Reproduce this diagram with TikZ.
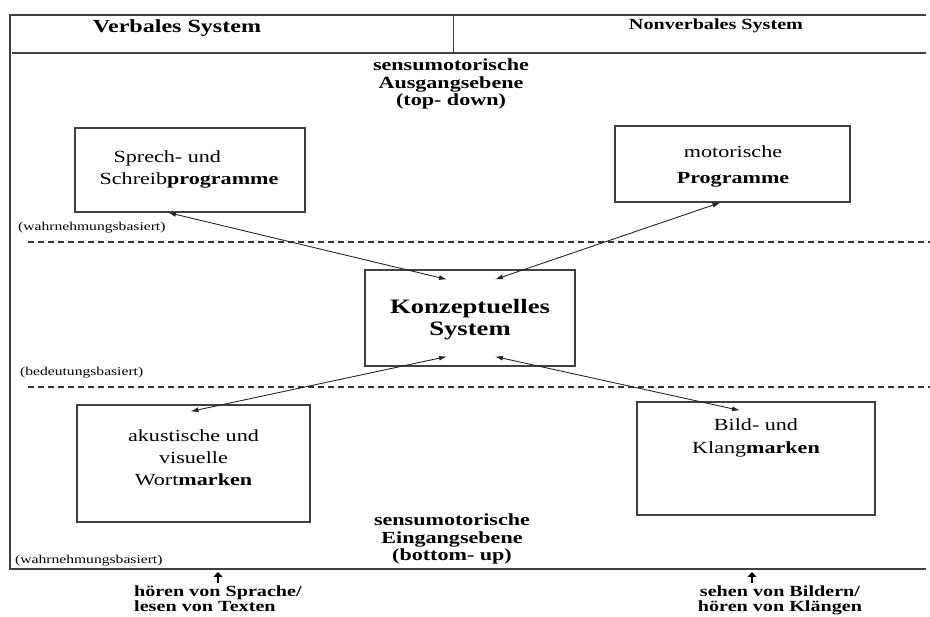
\documentclass[tikz,border=0pt]{standalone}
\usepackage{fontspec}
\setmainfont{Liberation Serif}[FakeStretch=1.3]
\usetikzlibrary{calc,arrows.meta}
\begin{document}
\begin{tikzpicture}[x=1pt,y=-1pt,
  frame/.style={draw=black!75,line width=1.3pt},
  sep/.style={draw=black!80,line width=1.4pt,dash pattern=on 6pt off 4pt},
  stage/.style={draw=black!75,line width=1.1pt,rectangle,inner sep=0pt},
  txt/.style={inner sep=0pt,align=center,font=\fontsize{17}{22}\selectfont},
  head/.style={inner sep=0pt,font=\fontsize{17}{17.5}\selectfont\bfseries,align=center},
  note/.style={inner sep=0pt,anchor=west,font=\fontsize{12}{13}\selectfont},
  link/.style={draw=black!85,line width=0.9pt,{Latex[length=8pt,width=5pt]}-{Latex[length=8pt,width=5pt]}},
  input/.style={draw=black,line width=2.2pt,-{Triangle[length=5pt,width=9pt]}},
  source/.style={inner sep=0pt,align=left,font=\fontsize{15.5}{15}\selectfont\bfseries}]
\useasboundingbox (0,0) rectangle (930,617);

% outer frame and header row
\coordinate (tl) at (10,15);
\coordinate (tr) at (926,15);
\coordinate (hl) at (12,53);
\coordinate (hr) at (926,53);
\coordinate (bl) at (10,569);
\coordinate (br) at (926,569);
\coordinate (dtop) at (453,15);
\coordinate (dbot) at (453,53);
\draw[frame] (tr) -- (tl) -- (bl) -- (br);
\draw[frame] (hl) -- (hr);
\draw[frame,line width=1pt] (dtop) -- (dbot);
\node[inner sep=0pt,font=\fontsize{18.5}{20}\selectfont\bfseries] (verb) at (177,28) {Verbales System};
\node[inner sep=0pt,font=\fontsize{15.5}{18}\selectfont\bfseries] (nonverb) at (716,26) {Nonverbales System};

% level separators
\coordinate (s1l) at (28,242);
\coordinate (s1r) at (930,242);
\coordinate (s2l) at (28,387);
\coordinate (s2r) at (930,387);
\draw[sep] (s1l) -- (s1r);
\draw[sep] (s2l) -- (s2r);

% level captions
\node[head] (out) at (451,84) {sensumotorische\\Ausgangsebene\\(top- down)};
\node[head] (in) at (452,539) {sensumotorische\\Eingangsebene\\(bottom- up)};
\node[note] (n1) at (18,228) {(wahrnehmungsbasiert)};
\node[note] (n2) at (20,373) {(bedeutungsbasiert)};
\node[note] (n3) at (15,561) {(wahrnehmungsbasiert)};

% boxes
\node[stage,minimum width=230pt,minimum height=84pt] (sp) at (190,170) {};
\node[txt,align=left] (sptext) at (189,169) {\hspace*{14pt}Sprech- und\\Schreib\textbf{programme}};
\node[stage,minimum width=235pt,minimum height=76pt] (mo) at (732.5,164) {};
\node[txt,font=\fontsize{17}{26}\selectfont] (motext) at (733,166) {motorische\\\textbf{Programme}};
\node[stage,minimum width=210pt,minimum height=96pt] (konz) at (470,318) {};
\node[txt,font=\fontsize{20.5}{22}\selectfont\bfseries] (konztext) at (470,320) {Konzeptuelles\\System};
\node[stage,minimum width=233pt,minimum height=117pt] (ak) at (193.5,463.5) {};
\node[txt,anchor=north] (aktext) at ($(ak.north)+(0,25)$) {akustische und\\visuelle\\Wort\textbf{marken}};
\node[stage,minimum width=238pt,minimum height=113pt] (bi) at (756,458.5) {};
\node[txt,anchor=north,font=\fontsize{17}{23}\selectfont] (bitext) at ($(bi.north)+(0,17)$) {Bild- und\\Klang\textbf{marken}};

% connections to the conceptual system
\coordinate (k1) at ($(konz.north)+(-23,10)$);
\coordinate (k2) at ($(konz.north)+(25,10)$);
\coordinate (k3) at ($(konz.south)+(-23,-10)$);
\coordinate (k4) at ($(konz.south)+(25,-10)$);
\coordinate (e1) at ($(sp.south)+(-22,0)$);
\coordinate (e2) at ($(mo.south)+(-12,0)$);
\coordinate (e3) at ($(ak.north)+(-3,7)$);
\coordinate (e4) at ($(bi.north)+(-16,9)$);
\draw[link] (e1) -- (k1);
\draw[link] (e2) -- (k2);
\draw[link] (k3) -- (e3);
\draw[link] (k4) -- (e4);

% perceptual input
\node[source,anchor=north west] (src1) at (134,586) {hören von Sprache/\\lesen von Texten};
\node[source,align=center,anchor=north] (src2) at (780,586) {sehen von Bildern/\\hören von Klängen};
\coordinate (i1) at (218,583);
\coordinate (i2) at (752,583);
\draw[input] (i1) -- ++(0,-11);
\draw[input] (i2) -- ++(0,-11);
\end{tikzpicture}
\end{document}
